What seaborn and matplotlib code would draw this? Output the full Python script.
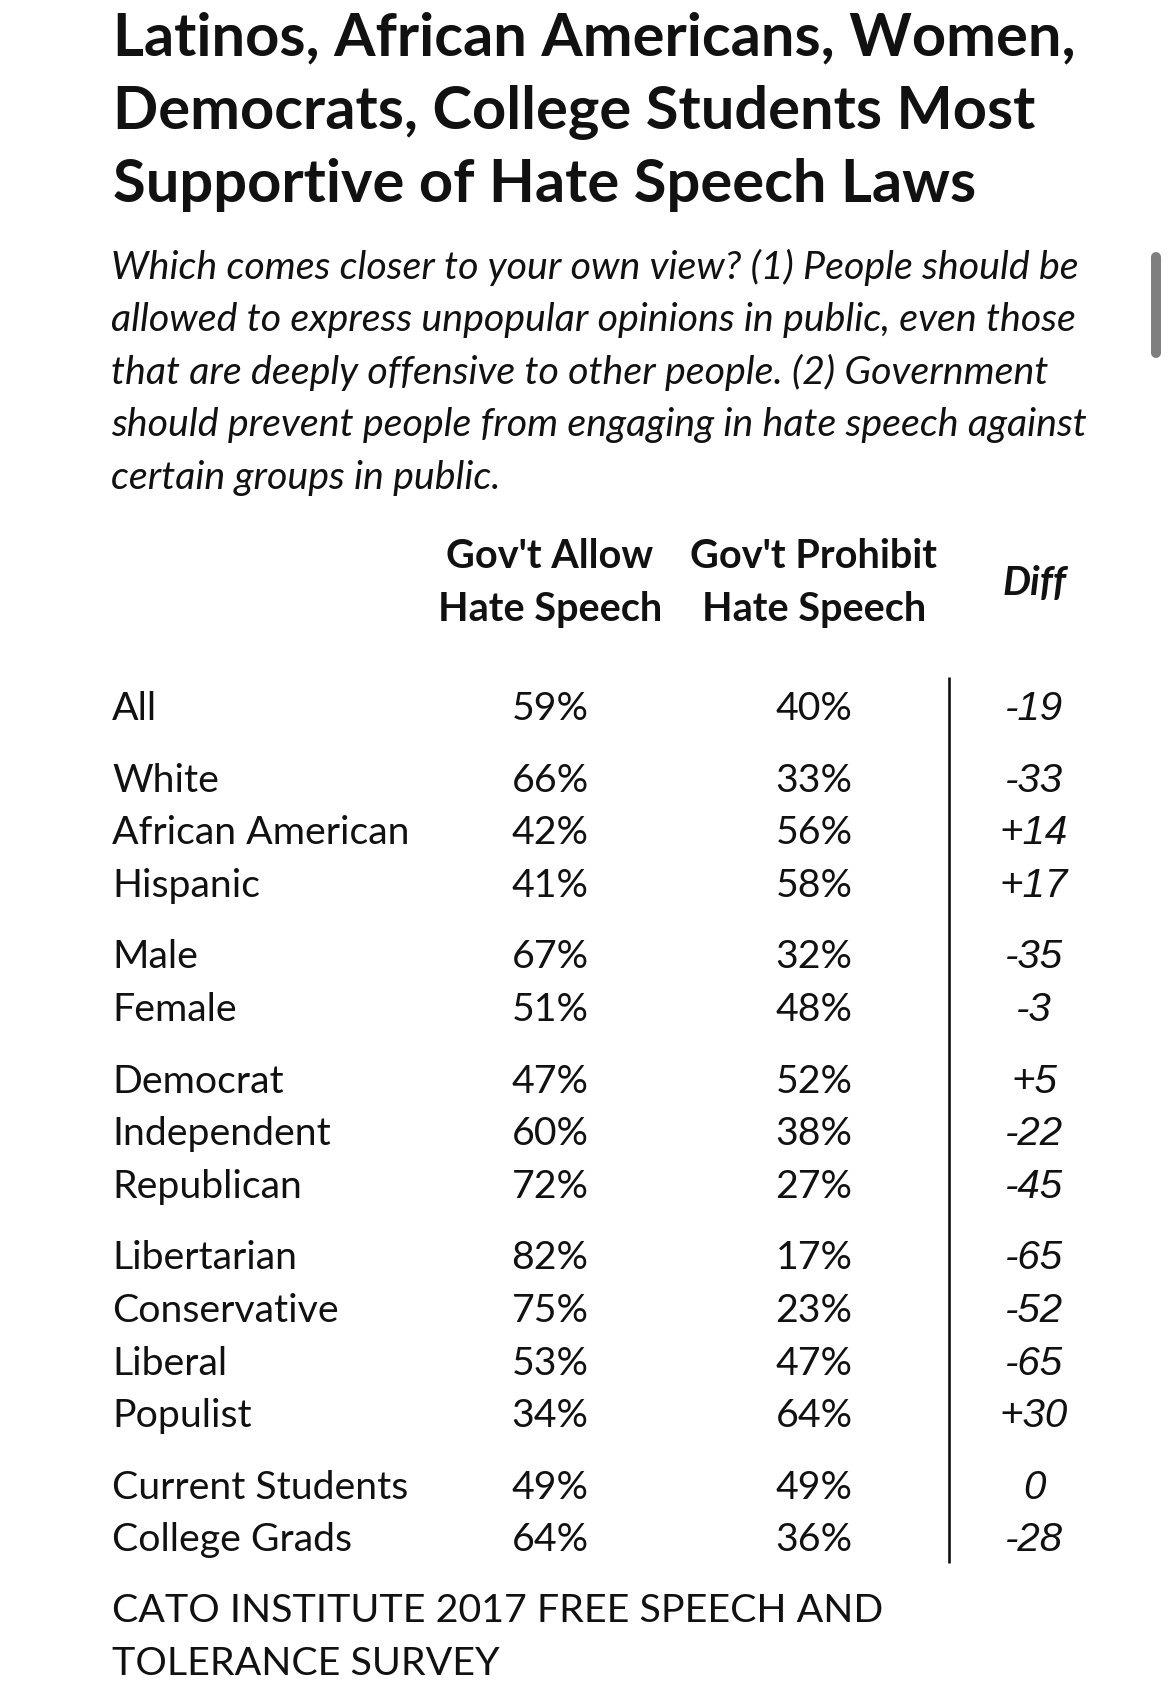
import matplotlib.pyplot as plt
import pandas as pd
import seaborn as sns

# table data
labels = ["All",
          "White", "African American", "Hispanic",
          "Male", "Female",
          "Democrat", "Independent", "Republican",
          "Libertarian", "Conservative", "Liberal", "Populist",
          "Current Students", "College Grads"]
groups = [0, 1, 1, 1, 2, 2, 3, 3, 3, 4, 4, 4, 4, 5, 5]
allow = [59, 66, 42, 41, 67, 51, 47, 60, 72, 82, 75, 53, 34, 49, 64]
prohibit = [40, 33, 56, 58, 32, 48, 52, 38, 27, 17, 23, 47, 64, 49, 36]
diff = [-19, -33, 14, 17, -35, -3, 5, -22, -45, -65, -52, -65, 30, 0, -28]

title_lines = ["Latinos, African Americans, Women,",
               "Democrats, College Students Most",
               "Supportive of Hate Speech Laws"]
question_lines = ["Which comes closer to your own view? (1) People should be",
                  "allowed to express unpopular opinions in public, even those",
                  "that are deeply offensive to other people. (2) Government",
                  "should prevent people from engaging in hate speech against",
                  "certain groups in public."]
col_heads = [("Gov't Allow", "Hate Speech"), ("Gov't Prohibit", "Hate Speech")]
source_lines = ["CATO INSTITUTE 2017 FREE SPEECH AND", "TOLERANCE SURVEY"]

df = pd.DataFrame({"label": labels, "group": groups, "allow": allow,
                   "prohibit": prohibit, "diff": diff})
df["row"] = range(len(df))

sns.set_theme(style="white")
plt.rcParams["font.family"] = ["Lato", "DejaVu Sans"]
ink = "#111111"

fig = plt.figure(figsize=(11.7, 16.89), dpi=100)
ax = fig.add_axes([0, 0, 1, 1])
ax.set_xlim(0, 1170)
ax.set_ylim(1689, 0)
ax.axis("off")

left = 112
for i, line in enumerate(title_lines):
    ax.text(left + 1, 55 + i * 73.5, line, fontsize=42.9, fontweight="bold",
            color=ink, va="baseline")

for i, line in enumerate(question_lines):
    ax.text(left - 1, 279 + i * 52.4, line, fontsize=28.4, style="italic",
            color=ink, va="baseline")

# column headers
col_x = [550, 814, 1034]
for x, (l1, l2) in zip(col_x[:2], col_heads):
    ax.text(x, 568, l1, fontsize=28.5, fontweight="bold", color=ink,
            ha="center", va="baseline")
    ax.text(x, 621, l2, fontsize=28.5, fontweight="bold", color=ink,
            ha="center", va="baseline")
ax.text(col_x[2], 595, "Diff", fontsize=28.5, fontweight="bold", style="italic",
        color=ink, ha="center", va="baseline")

# rows
df["y"] = 720 + df["row"] * 52.6 + df["group"] * 19
for _, r in df.iterrows():
    ax.text(left, r["y"], r["label"], fontsize=28.3, color=ink, va="baseline")
    ax.text(col_x[0], r["y"], f"{r['allow']}%", fontsize=28.3, color=ink,
            ha="center", va="baseline")
    ax.text(col_x[1], r["y"], f"{r['prohibit']}%", fontsize=28.3, color=ink,
            ha="center", va="baseline")
    d = r["diff"]
    txt = f"+{d}" if d > 0 else str(d)
    ax.text(col_x[2], r["y"], txt, fontsize=29, style="italic", color=ink,
            family="Liberation Sans", ha="center", va="baseline")

ax.vlines(949, 677, 1563, color=ink, linewidth=1.9)

for i, line in enumerate(source_lines):
    ax.text(left, 1622 + i * 53, line, fontsize=28.4, color=ink, va="baseline")

# scrollbar of the screenshot
ax.plot([1156, 1156], [257, 353], color="#7f7f7f", linewidth=7.2,
        solid_capstyle="round")

fig.savefig("out.png", dpi=100, facecolor="white")
